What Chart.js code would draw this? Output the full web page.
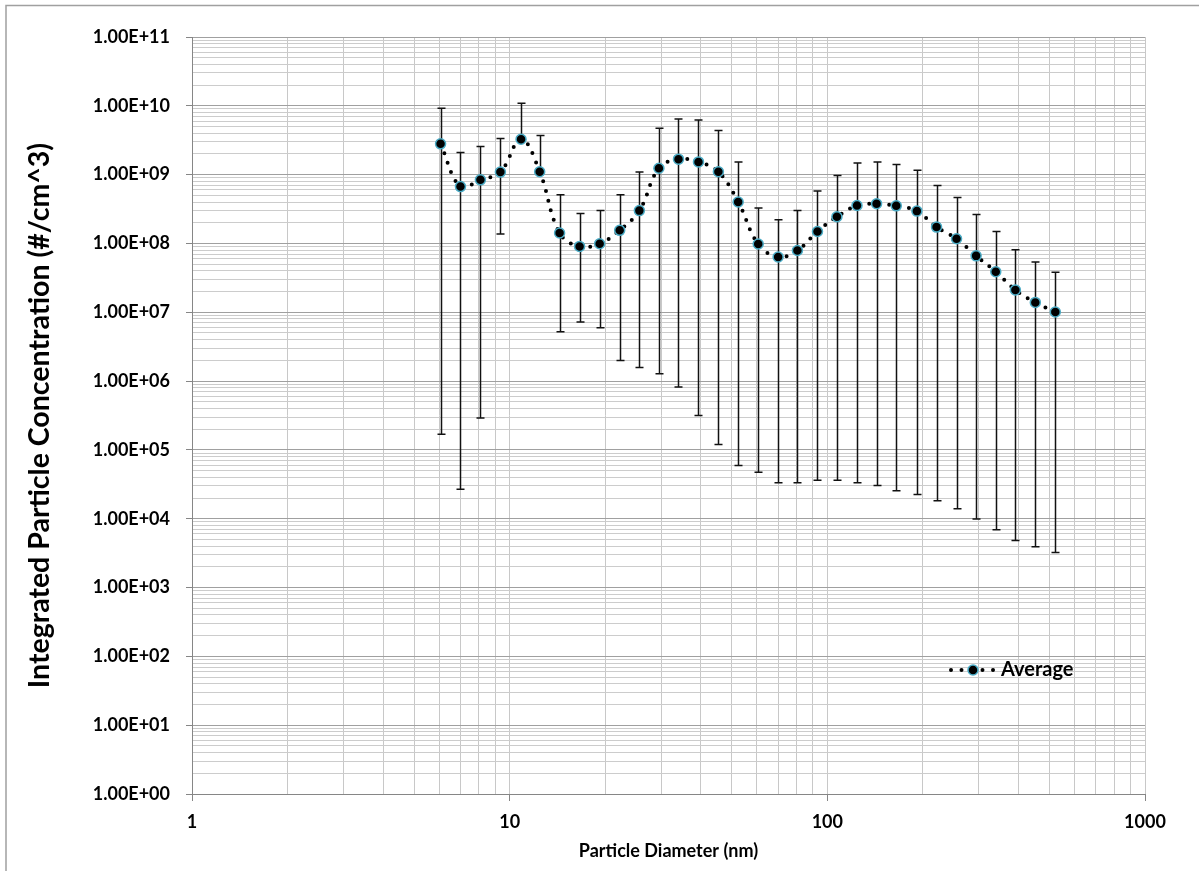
<!DOCTYPE html>
<html>
<head>
<meta charset="utf-8">
<script src="https://cdn.jsdelivr.net/npm/chart.js@4.4.1/dist/chart.umd.min.js"></script>
<style>
  html, body { margin: 0; padding: 0; background: #ffffff; }
  #wrap { width: 1199px; height: 871px; position: relative; }
</style>
</head>
<body>
<div id="wrap"><canvas id="c" width="1199" height="871"></canvas></div>
<script>
// Size bins (nm) and measured concentrations (#/cm^3)
const diameters = [6.06, 7.0, 8.09, 9.35, 10.86, 12.43, 14.36, 16.6, 19.2, 22.2, 25.6,
  29.5, 34.0, 39.3, 45.4, 52.4, 60.6, 70.0, 80.5, 93.1, 107.2, 124, 142.9, 164.8,
  191.4, 220.7, 255.1, 294, 339, 390.8, 451.6, 522];

const averages = [2.8e9, 6.7e8, 8.4e8, 1.09e9, 3.27e9, 1.1e9, 1.42e8, 9.06e7, 9.9e7,
  1.55e8, 3.0e8, 1.24e9, 1.68e9, 1.53e9, 1.1e9, 4.0e8, 9.8e7, 6.35e7, 7.9e7, 1.49e8,
  2.44e8, 3.56e8, 3.77e8, 3.52e8, 2.95e8, 1.73e8, 1.17e8, 6.6e7, 3.88e7, 2.11e7,
  1.39e7, 1.01e7];

// Upper and lower ends of the error bars (null = no lower bar)
const errorHigh = [9.2e9, 2.1e9, 2.56e9, 3.34e9, 1.09e10, 3.7e9, 5.1e8, 2.72e8, 3.0e8,
  5.1e8, 1.09e9, 4.73e9, 6.46e9, 6.2e9, 4.37e9, 1.52e9, 3.27e8, 2.21e8, 3.0e8, 5.8e8,
  9.7e8, 1.47e9, 1.53e9, 1.4e9, 1.16e9, 6.95e8, 4.65e8, 2.64e8, 1.49e8, 8.1e7,
  5.37e7, 3.8e7];

const errorLow = [1.69e5, 2.69e4, 2.9e5, 1.37e8, null, null, 5.2e6, 7.2e6, 5.97e6,
  1.99e6, 1.58e6, 1.28e6, 8.2e5, 3.16e5, 1.2e5, 5.94e4, 4.74e4, 3.33e4, 3.33e4,
  3.63e4, 3.63e4, 3.33e4, 3.04e4, 2.55e4, 2.25e4, 1.82e4, 1.4e4, 9.9e3, 6.9e3,
  4.84e3, 3.93e3, 3.24e3];

const xTickLabels = ['1', '10', '100', '1000'];
const yTickLabels = ['1.00E+00', '1.00E+01', '1.00E+02', '1.00E+03', '1.00E+04',
  '1.00E+05', '1.00E+06', '1.00E+07', '1.00E+08', '1.00E+09', '1.00E+10', '1.00E+11'];

const seriesName = 'Average';

// ---- helpers ----
const FONT = 'Lato, "Open Sans", "Liberation Sans", sans-serif';

function isDecade(v) {
  const l = Math.log10(v);
  return Math.abs(l - Math.round(l)) < 1e-9;
}

// 1..9 x 10^n ticks so every minor grid line is drawn
function logTicks(minExp, maxExp) {
  const out = [];
  for (let e = minExp; e < maxExp; e++) {
    for (let m = 1; m < 10; m++) out.push({ value: m * Math.pow(10, e) });
  }
  out.push({ value: Math.pow(10, maxExp) });
  return out;
}

const MARKER_FILL = '#000000';
const MARKER_EDGE = '#4bacc6';

// Outer frame of the chart
const framePlugin = {
  id: 'frame',
  beforeDraw(chart) {
    const { ctx, width, height } = chart;
    ctx.save();
    ctx.fillStyle = '#ffffff';
    ctx.fillRect(0, 0, width, height);
    ctx.strokeStyle = '#a0a0a0';
    ctx.lineWidth = 1.5;
    ctx.beginPath();
    ctx.moveTo(6, height);
    ctx.lineTo(6, 5.5);
    ctx.lineTo(width, 5.5);
    ctx.stroke();
    ctx.restore();
  }
};

// Vertical error bars with end caps
const errorBarPlugin = {
  id: 'errorBars',
  beforeDatasetsDraw(chart) {
    const { ctx, scales: { x, y } } = chart;
    const cap = 4;
    ctx.save();
    ctx.strokeStyle = '#111111';
    ctx.lineWidth = 1.5;
    ctx.beginPath();
    diameters.forEach((d, i) => {
      const px = Math.round(x.getPixelForValue(d)) + 0.5;
      const py = y.getPixelForValue(averages[i]);
      const hi = y.getPixelForValue(errorHigh[i]);
      ctx.moveTo(px, py);
      ctx.lineTo(px, hi);
      ctx.moveTo(px - cap, hi);
      ctx.lineTo(px + cap, hi);
      if (errorLow[i] !== null) {
        const lo = y.getPixelForValue(errorLow[i]);
        ctx.moveTo(px, py);
        ctx.lineTo(px, lo);
        ctx.moveTo(px - cap, lo);
        ctx.lineTo(px + cap, lo);
      }
    });
    ctx.stroke();
    ctx.restore();
  }
};

// Legend entry inside the plot area
const legendPlugin = {
  id: 'insideLegend',
  afterDraw(chart) {
    const { ctx, chartArea } = chart;
    const x0 = chartArea.right - 194;
    const yc = chartArea.top + 633;
    ctx.save();
    ctx.strokeStyle = '#000000';
    ctx.lineWidth = 4;
    ctx.lineCap = 'round';
    ctx.setLineDash([0, 10.5]);
    ctx.beginPath();
    ctx.moveTo(x0, yc);
    ctx.lineTo(x0 + 46, yc);
    ctx.stroke();
    ctx.setLineDash([]);
    ctx.beginPath();
    ctx.arc(x0 + 22, yc, 5, 0, Math.PI * 2);
    ctx.fillStyle = MARKER_FILL;
    ctx.fill();
    ctx.lineWidth = 1.5;
    ctx.strokeStyle = MARKER_EDGE;
    ctx.stroke();
    ctx.fillStyle = '#000000';
    ctx.font = 'bold 20px ' + FONT;
    ctx.textAlign = 'left';
    ctx.textBaseline = 'middle';
    ctx.fillText(seriesName, x0 + 50, yc);
    ctx.restore();
  }
};

const points = diameters.map((d, i) => ({ x: d, y: averages[i] }));

new Chart(document.getElementById('c'), {
  type: 'line',
  data: {
    datasets: [{
      label: seriesName,
      data: points,
      borderColor: '#000000',
      borderWidth: 4,
      borderDash: [0, 10],
      borderCapStyle: 'round',
      tension: 0.4,
      fill: false,
      pointRadius: 5,
      pointBorderWidth: 1.5,
      pointBackgroundColor: MARKER_FILL,
      pointBorderColor: MARKER_EDGE,
      clip: false
    }]
  },
  options: {
    responsive: false,
    animation: false,
    layout: { padding: { left: 0, top: 37, right: 54, bottom: 0 } },
    plugins: {
      legend: { display: false },
      tooltip: { enabled: false }
    },
    scales: {
      x: {
        type: 'logarithmic',
        min: 1,
        max: 1000,
        afterBuildTicks: (s) => { s.ticks = logTicks(0, 3); },
        afterFit: (s) => { s.height = 77; },
        border: { color: '#868686', width: 1 },
        grid: {
          color: '#c8c8c8',
          lineWidth: 1,
          tickLength: 7,
          tickColor: (c) => (c.tick && isDecade(c.tick.value)) ? '#868686' : 'rgba(0,0,0,0)'
        },
        ticks: {
          autoSkip: false,
          maxRotation: 0,
          padding: 10,
          color: '#000000',
          font: { family: FONT, size: 18, weight: 'bold' },
          callback: (v) => isDecade(v) ? xTickLabels[Math.round(Math.log10(v))] : ''
        },
        title: {
          display: true,
          text: 'Particle Diameter (nm)',
          color: '#000000',
          font: { family: FONT, size: 18, weight: 'bold' },
          padding: { top: 0, bottom: 9 }
        }
      },
      y: {
        type: 'logarithmic',
        min: 1,
        max: 1e11,
        afterBuildTicks: (s) => { s.ticks = logTicks(0, 11); },
        afterFit: (s) => { s.width = 192; },
        border: { color: '#868686', width: 1 },
        grid: {
          color: (c) => (c.tick && isDecade(c.tick.value)) ? '#a0a0a0' : '#cccccc',
          lineWidth: 1,
          tickLength: 6,
          tickColor: (c) => (c.tick && isDecade(c.tick.value)) ? '#868686' : 'rgba(0,0,0,0)'
        },
        ticks: {
          autoSkip: false,
          padding: 16,
          color: '#000000',
          font: { family: FONT, size: 18, weight: 'bold' },
          callback: (v) => isDecade(v) ? yTickLabels[Math.round(Math.log10(v))] : ''
        },
        title: {
          display: true,
          text: 'Integrated Particle Concentration (#/cm^3)',
          color: '#000000',
          font: { family: FONT, size: 28.5, weight: 'bold' },
          padding: { top: 23, bottom: 0 }
        }
      }
    }
  },
  plugins: [framePlugin, errorBarPlugin, legendPlugin]
});
</script>
</body>
</html>
